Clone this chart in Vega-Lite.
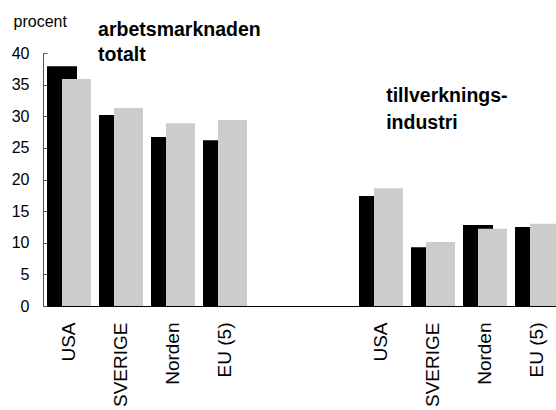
{
  "$schema": "https://vega.github.io/schema/vega-lite/v6.json",
  "width": 513,
  "height": 253,
  "autosize": {"type": "none"},
  "padding": {"left": 43, "top": 53, "right": 0, "bottom": 104},
  "background": "white",
  "config": {
    "view": {"stroke": null},
    "font": "Liberation Sans",
    "axis": {"grid": false}
  },
  "datasets": {
    "bars": [
      {"kat": "USA", "serie": "A", "value": 37.9},
      {"kat": "USA", "serie": "B", "value": 35.9},
      {"kat": "SVERIGE", "serie": "A", "value": 30.2},
      {"kat": "SVERIGE", "serie": "B", "value": 31.3},
      {"kat": "Norden", "serie": "A", "value": 26.7},
      {"kat": "Norden", "serie": "B", "value": 28.9},
      {"kat": "EU (5)", "serie": "A", "value": 26.2},
      {"kat": "EU (5)", "serie": "B", "value": 29.4},
      {"kat": " USA", "serie": "A", "value": 17.4},
      {"kat": " USA", "serie": "B", "value": 18.6},
      {"kat": " SVERIGE", "serie": "A", "value": 9.3},
      {"kat": " SVERIGE", "serie": "B", "value": 10.1},
      {"kat": " Norden", "serie": "A", "value": 12.8},
      {"kat": " Norden", "serie": "B", "value": 12.2},
      {"kat": " EU (5)", "serie": "A", "value": 12.5},
      {"kat": " EU (5)", "serie": "B", "value": 13.0}
    ]
  },
  "layer": [
    {
      "data": {"name": "bars"},
      "encoding": {
        "x": {
          "field": "kat",
          "type": "nominal",
          "sort": null,
          "scale": {
            "domain": ["USA", "SVERIGE", "Norden", "EU (5)", "gap1", "gap2", " USA", " SVERIGE", " Norden", " EU (5)"],
            "range": [0, 520],
            "paddingInner": 0,
            "paddingOuter": 0
          },
          "axis": {
            "title": null,
            "ticks": false,
            "labelAngle": -90,
            "labelAlign": "right",
            "labelBaseline": "middle",
            "labelPadding": 16,
            "labelFontSize": 19,
            "labelColor": "#000000",
            "labelFont": "Liberation Sans",
            "labelOverlap": false,
            "labelLimit": 0,
            "labelExpr": "indexof(datum.value, 'gap') === 0 ? '' : trim(datum.value)",
            "domainColor": "#000000",
            "domainWidth": 1,
            "zindex": 1
          }
        },
        "y": {
          "field": "value",
          "type": "quantitative",
          "scale": {"domain": [0, 40], "nice": false, "zero": true},
          "axis": {
            "values": [0, 5, 10, 15, 20, 25, 30, 35, 40],
            "tickCount": 9,
            "title": "procent",
            "titleAngle": 0,
            "titleAlign": "left",
            "titleBaseline": "alphabetic",
            "titleX": -30,
            "titleY": -27,
            "titleFontSize": 16,
            "titleFontWeight": "normal",
            "titleColor": "#000000",
            "titleFont": "Liberation Sans",
            "labelFontSize": 16,
            "labelColor": "#000000",
            "labelFont": "Liberation Sans",
            "labelPadding": 18,
            "labelOverlap": false,
            "tickSize": -4,
            "tickColor": "#555555",
            "domainColor": "#555555",
            "labelFlush": false,
            "zindex": 1
          }
        }
      },
      "layer": [
        {
          "transform": [{"filter": "datum.serie === 'A'"}],
          "mark": {"type": "bar", "color": "#000000", "width": 30, "xOffset": -7}
        },
        {
          "transform": [{"filter": "datum.serie === 'B'"}],
          "mark": {"type": "bar", "color": "#cccccc", "width": 29, "xOffset": 7.5}
        }
      ]
    },
    {
      "data": {"values": [{"t": ["arbetsmarknaden", "totalt"]}]},
      "mark": {"type": "text", "align": "left", "baseline": "alphabetic", "fontSize": 19.5, "fontWeight": "bold", "lineHeight": 25, "color": "#000000", "clip": false},
      "encoding": {
        "x": {"datum": "SVERIGE", "type": "nominal", "bandPosition": 0.06},
        "y": {"datum": 42.7, "type": "quantitative"},
        "text": {"field": "t"}
      }
    },
    {
      "data": {"values": [{"t": ["tillverknings-", "industri"]}]},
      "mark": {"type": "text", "align": "left", "baseline": "alphabetic", "fontSize": 19.5, "fontWeight": "bold", "lineHeight": 27, "color": "#000000", "clip": false},
      "encoding": {
        "x": {"datum": " USA", "type": "nominal", "bandPosition": 0.6},
        "y": {"datum": 32.2, "type": "quantitative"},
        "text": {"field": "t"}
      }
    }
  ]
}
